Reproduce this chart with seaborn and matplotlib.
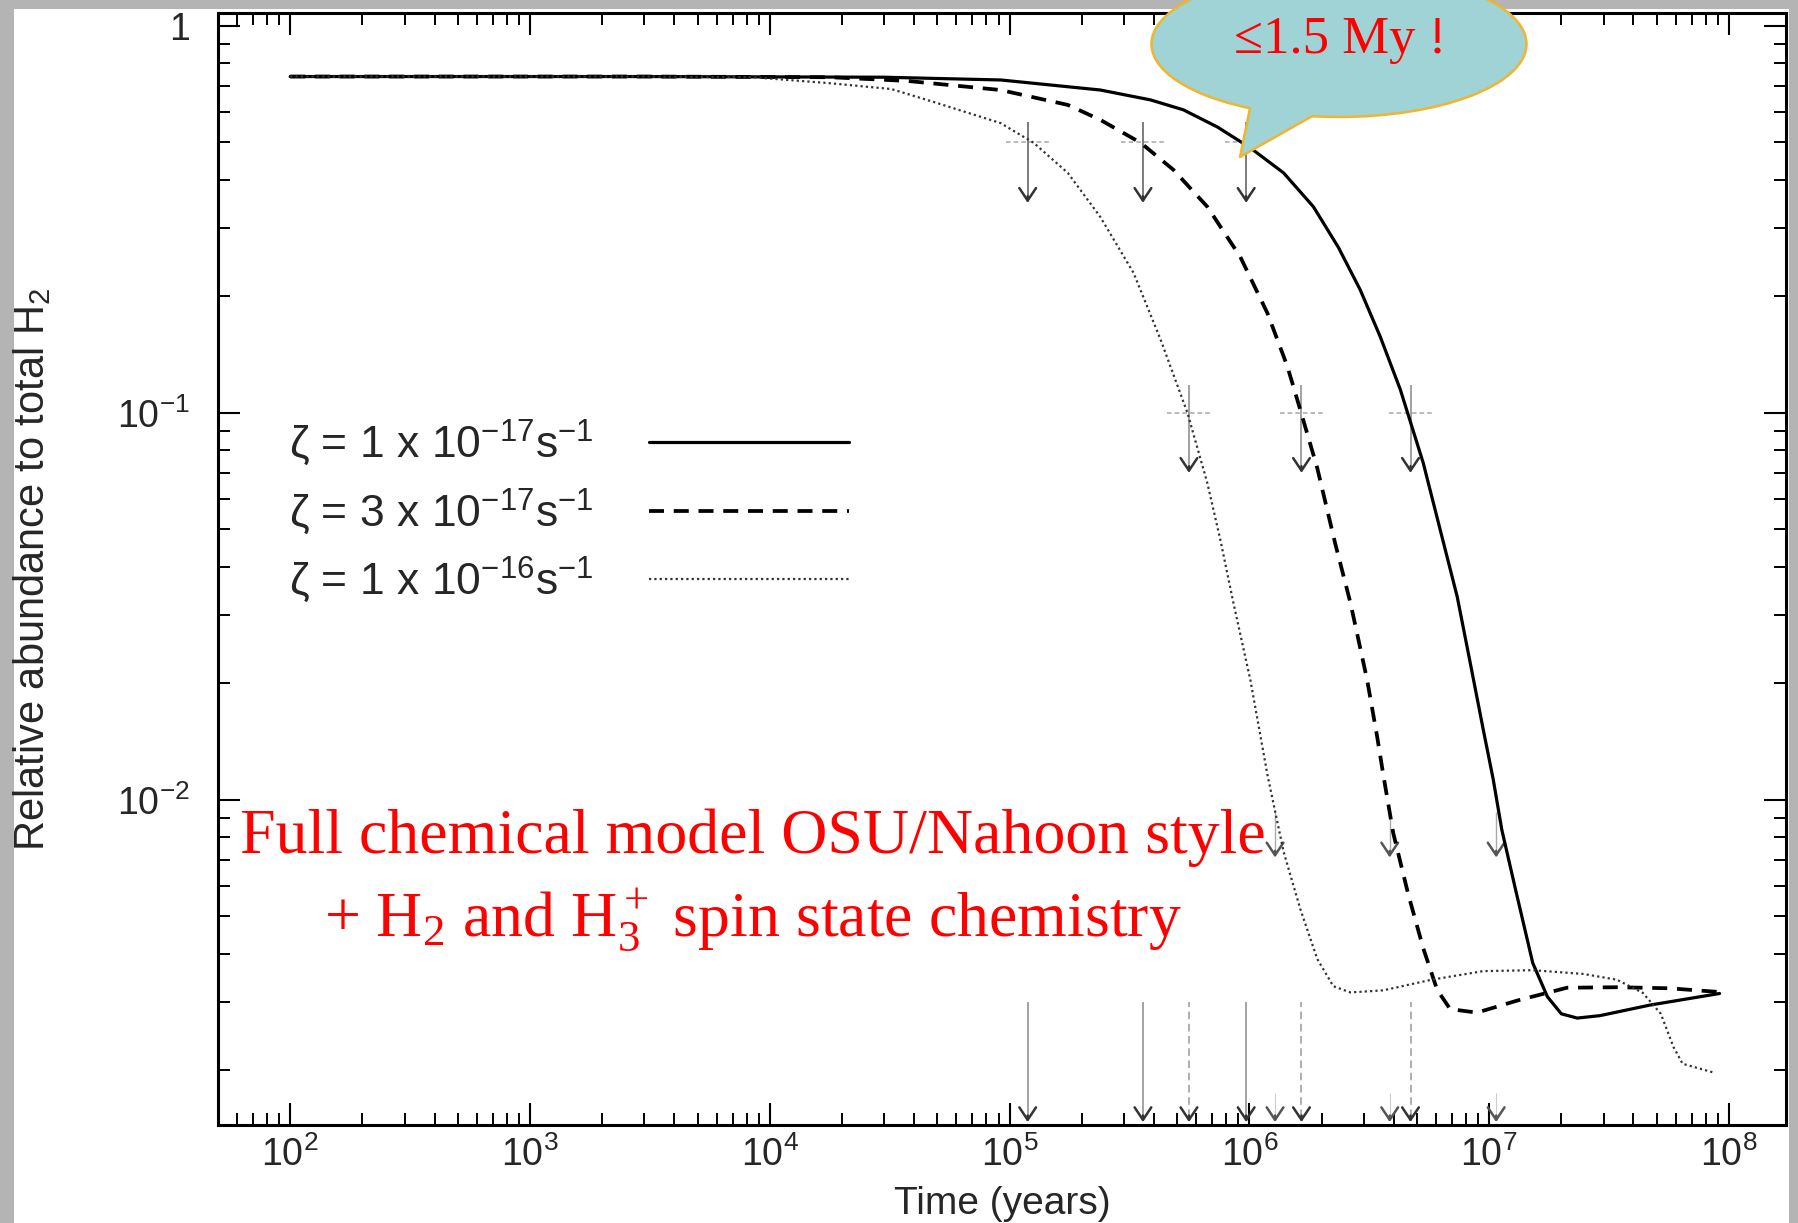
import numpy as np
import pandas as pd
import matplotlib
matplotlib.use("Agg")
import matplotlib.pyplot as plt
import seaborn as sns
from matplotlib.patches import Ellipse, Polygon, Rectangle
from matplotlib.lines import Line2D
from matplotlib.ticker import LogLocator, NullFormatter, FixedLocator, FixedFormatter

# ---------------- data ----------------
time_z1e17 = [1e2, 3e3, 3e4, 9.2e4, 2.39e5, 3.87e5, 5.31e5, 7.36e5, 1.01e6, 1.39e6, 1.85e6,
              2.35e6, 2.90e6, 3.52e6, 4.26e6, 5.31e6, 6.25e6, 7.36e6, 8.34e6, 9.45e6,
              1.04e7, 1.13e7, 1.29e7, 1.52e7, 1.75e7, 2.0e7, 2.33e7, 2.90e7, 4.69e7, 9.14e7]
abund_z1e17 = [0.74, 0.74, 0.737, 0.725, 0.683, 0.644, 0.607, 0.548, 0.484, 0.417, 0.341,
               0.268, 0.208, 0.157, 0.115, 0.0743, 0.0499, 0.0335, 0.0226, 0.0152,
               0.0113, 0.00836, 0.00585, 0.00379, 0.0031, 0.0028, 0.00273, 0.00277, 0.00295,
               0.00316]

time_z3e17 = [1e2, 3e3, 1.79e4, 3.74e4, 9.17e4, 1.75e5, 2.39e5, 3.52e5, 4.82e5, 6.68e5,
              9.17e5, 1.19e6, 1.44e6, 1.63e6, 1.92e6, 2.28e6, 2.64e6, 3.10e6, 3.41e6,
              3.62e6, 3.98e6, 4.6e6, 5.31e6, 6.07e6, 6.88e6, 8.9e6, 1.31e7, 2.11e7,
              3.41e7, 5.62e7, 9.0e7]
abund_z3e17 = [0.74, 0.74, 0.737, 0.721, 0.683, 0.625, 0.572, 0.499, 0.425, 0.341,
               0.253, 0.181, 0.132, 0.102, 0.072, 0.046, 0.0323, 0.0204, 0.0146,
               0.0116, 0.00822, 0.0057, 0.00414, 0.00323, 0.00288, 0.00282, 0.00303, 0.00327,
               0.00328, 0.00326, 0.00319]

time_z1e16 = [1e2, 3e3, 8.5e3, 1.79e4, 3.21e4, 4.99e4, 9.17e4, 1.26e5, 1.75e5, 2.39e5,
              3.29e5, 4.26e5, 5.52e5, 6.68e5, 7.57e5, 8.58e5, 1.01e6, 1.19e6, 1.39e6,
              1.63e6, 1.92e6, 2.24e6, 2.64e6, 3.62e6, 5.75e6, 9.45e6, 1.52e7, 2.47e7,
              3.41e7, 4.38e7, 5.2e7, 5.87e7, 6.41e7, 8.75e7]
abund_z1e16 = [0.74, 0.74, 0.737, 0.711, 0.687, 0.632, 0.561, 0.499, 0.417, 0.321,
               0.230, 0.155, 0.100, 0.0659, 0.047, 0.0323, 0.0204, 0.0116, 0.00734,
               0.00523, 0.00388, 0.0033, 0.00318, 0.00322, 0.00343, 0.00361, 0.00363, 0.00355,
               0.00343, 0.00317, 0.0028, 0.0023, 0.00208, 0.00197]

legend_labels = [r"ζ = 1 x 10$^{-17}$s$^{-1}$",
                 r"ζ = 3 x 10$^{-17}$s$^{-1}$",
                 r"ζ = 1 x 10$^{-16}$s$^{-1}$"]

x_ticks = [1e2, 1e3, 1e4, 1e5, 1e6, 1e7, 1e8]
x_tick_labels = [r"$10^{2}$", r"$10^{3}$", r"$10^{4}$", r"$10^{5}$",
                 r"$10^{6}$", r"$10^{7}$", r"$10^{8}$"]
y_ticks = [1e-2, 1e-1, 1.0]
y_tick_labels = [r"$10^{-2}$", r"$10^{-1}$", "1"]

# times at which each model (1e-16, 3e-17, 1e-17) crosses the marked levels
levels = [0.5, 0.1, 0.01]
cross_times_half = [1.19e5, 3.6e5, 9.7e5]
cross_times_tenth = [5.6e5, 1.65e6, 4.7e6]
cross_times_low = [1.28e6, 3.85e6, 1.07e7]

x_label = "Time (years)"
y_label = r"Relative abundance to total H$_2$"
note_line1 = "Full chemical model OSU/Nahoon style"
note_line2 = r"+ H$_2$ and H$_3^+$ spin state chemistry"
bubble_text = "≤1.5 My !"

# ---------------- style ----------------
sns.set_style("ticks")
plt.rcParams["font.family"] = ["Liberation Sans", "DejaVu Sans"]
plt.rcParams["mathtext.fontset"] = "custom"
plt.rcParams["mathtext.rm"] = "Liberation Sans"
plt.rcParams["mathtext.it"] = "Liberation Sans:italic"
plt.rcParams["mathtext.bf"] = "Liberation Sans:bold"
plt.rcParams["mathtext.default"] = "regular"

W, H = 1799, 1223
fig = plt.figure(figsize=(W / 100, H / 100), dpi=100, facecolor="#b4b4b4")
fig.add_artist(Rectangle((14 / W, 0), (1789 - 14) / W, 1 - 9 / H, transform=fig.transFigure,
                         facecolor="white", edgecolor="none", zorder=-1))

ax_l, ax_r, ax_t, ax_b = 218, 1786, 13, 1125
ax = fig.add_axes([ax_l / W, 1 - ax_b / H, (ax_r - ax_l) / W, (ax_b - ax_t) / H])
ax.set_facecolor("white")

series = [
    (time_z1e17, abund_z1e17, dict(color="black", linewidth=2.3, linestyle="-")),
    (time_z3e17, abund_z3e17, dict(color="black", linewidth=2.7, linestyle=(0, (4, 2.6)))),
    (time_z1e16, abund_z1e16, dict(color="#333333", linewidth=1.6, linestyle=(0, (1, 1.4)))),
]
for t, a, kw in series:
    df = pd.DataFrame({"time": t, "abund": a})
    sns.lineplot(data=df, x="time", y="abund", ax=ax, sort=False, estimator=None,
                 legend=False, zorder=3, **kw)

ax.set_xscale("log")
ax.set_yscale("log")
ax.set_xlim(50, 1.73e8)
ax.set_ylim(1.445e-3, 1.08)

# ---------------- marker arrows ----------------
head = "->,head_length=0.45,head_width=0.3"

def arrow_head(t, y_tip, color="#333333", lw=1.8):
    ax.annotate("", xy=(t, y_tip), xytext=(t, y_tip * 1.04),
                arrowprops=dict(arrowstyle=head, color=color, lw=lw,
                                mutation_scale=20, shrinkA=0, shrinkB=0), zorder=2)

def arrow(t, y0, y1, shaft_color="#777777", lw=1.1, ls="-", head_color="#333333"):
    ax.vlines(t, y1 * 1.03, y0, colors=shaft_color, lw=lw, linestyles=ls, zorder=2)
    arrow_head(t, y1, head_color)

def cross(t, y):
    ax.hlines(y, t / 10 ** 0.09, t * 10 ** 0.09, colors="#a8a8a8", linestyles=(0, (3, 2)),
              lw=1.1, zorder=2)

for t in cross_times_half:
    cross(t, levels[0])
    arrow(t, 0.565, 0.349, "#666666", 1.2)
for t in cross_times_tenth:
    cross(t, levels[1])
    arrow(t, 0.118, 0.070, "#888888", 1.1)
for t in cross_times_low:
    arrow(t, 0.0093, 0.0071, "#aaaaaa", 1.0, head_color="#555555")

# arrows down to the time axis
y_bot_top, y_bot_tip = 0.003, 1.47e-3
for t in cross_times_half:
    arrow(t, y_bot_top, y_bot_tip, "#8a8a8a", 1.1)
for t in cross_times_tenth:
    arrow(t, y_bot_top, y_bot_tip, "#999999", 1.1, ls=(0, (5, 3)))
for t in cross_times_low:
    arrow(t, 1.75e-3, y_bot_tip, "#cccccc", 0.8, head_color="#555555")

# ---------------- axes formatting ----------------
ax.xaxis.set_major_locator(FixedLocator(x_ticks))
ax.xaxis.set_major_formatter(FixedFormatter(x_tick_labels))
ax.xaxis.set_minor_locator(LogLocator(base=10, subs=np.arange(2, 10), numticks=30))
ax.xaxis.set_minor_formatter(NullFormatter())
ax.yaxis.set_major_locator(FixedLocator(y_ticks))
ax.yaxis.set_major_formatter(FixedFormatter(y_tick_labels))
ax.yaxis.set_minor_locator(LogLocator(base=10, subs=np.arange(2, 10), numticks=30))
ax.yaxis.set_minor_formatter(NullFormatter())

ax.tick_params(which="both", direction="in", top=True, right=True, color="black")
ax.tick_params(which="major", length=16, width=1.5, labelsize=27)
ax.tick_params(which="minor", length=8.5, width=1.4)
ax.tick_params(axis="x", which="major", pad=8)
ax.tick_params(axis="y", which="major", pad=20)
for s in ax.spines.values():
    s.set_linewidth(2.2)
    s.set_color("black")

ax.set_xlabel(x_label, fontsize=28)
ax.set_ylabel(y_label, fontsize=30)
ax.xaxis.set_label_coords(0.5, -0.055)
ax.yaxis.set_label_coords(-0.105, 0.5)

# ---------------- legend ----------------
handles = [Line2D([], [], **series[0][2]), Line2D([], [], **series[1][2]),
           Line2D([], [], **series[2][2])]
leg = ax.legend(handles, legend_labels, loc="upper left", markerfirst=False,
                frameon=False, fontsize=32, handlelength=4.5, handletextpad=1.24,
                labelspacing=0.41, borderpad=0, borderaxespad=0,
                bbox_to_anchor=(289 / W, 1 - 418 / H), bbox_transform=fig.transFigure)

# ---------------- red notes ----------------
fig.text(753 / W, 1 - 838 / H, note_line1, color="#ff0000", fontsize=46,
         family=["Liberation Serif", "DejaVu Serif"], ha="center", va="center", zorder=6)
fig.text(753 / W, 1 - 920 / H, note_line2, color="#ff0000", fontsize=46,
         family=["Liberation Serif", "DejaVu Serif"], math_fontfamily="stix",
         ha="center", va="center", zorder=6)

# ---------------- speech bubble ----------------
def fp(px, py):
    return (px / W, 1 - py / H)

bubble_face, bubble_edge = "#9fd3d6", "#efb52e"
fig.add_artist(Ellipse(fp(1339, 44), 375 / W, 146 / H, transform=fig.transFigure,
                       facecolor=bubble_face, edgecolor=bubble_edge, lw=1.8, zorder=10))
fig.add_artist(Polygon([fp(1240, 157), fp(1250, 108.3), fp(1252, 95), fp(1310, 100),
                        fp(1312, 116.2)], closed=True, transform=fig.transFigure,
                       facecolor=bubble_face, edgecolor="none", zorder=11))
fig.add_artist(Line2D([1250 / W, 1240 / W, 1312 / W],
                      [1 - 108.3 / H, 1 - 157 / H, 1 - 116.2 / H],
                      transform=fig.transFigure, color=bubble_edge, lw=1.8, zorder=12))
fig.text(1340 / W, 1 - 40 / H, bubble_text, color="#ff0000", fontsize=38,
         family=["Liberation Serif", "DejaVu Serif"], ha="center", va="center", zorder=13)

fig.savefig("out.png", dpi=100, facecolor=fig.get_facecolor())
